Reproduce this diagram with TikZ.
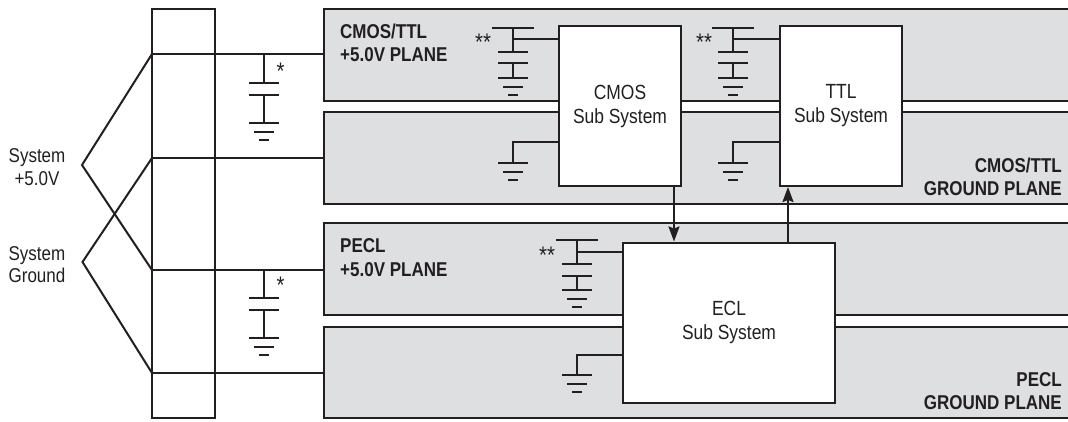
\documentclass[tikz,border=0pt]{standalone}
\usepackage{fontspec}
\setmainfont{Liberation Sans}[FakeStretch=0.85]
\usetikzlibrary{arrows.meta,calc}
\definecolor{planegray}{HTML}{DEDFE1}
\definecolor{inkline}{HTML}{231F20}
\tikzset{
    wire/.style={draw=inkline, line width=2pt},
    plane/.style={wire, fill=planegray},
    subbox/.style={wire, fill=white, minimum width=#1, align=center, inner sep=0pt,
        text=inkline, font=\fontsize{20.5}{24}\selectfont},
    planelabel/.style={inner sep=0pt, text=inkline, font=\bfseries\fontsize{20}{23.5}\selectfont},
    syslabel/.style={inner sep=0pt, align=center, text=inkline, font=\fontsize{20}{22.5}\selectfont},
    starlabel/.style={inner sep=0pt, text=inkline, font=\fontsize{24}{24}\selectfont},
    sig/.style={wire, -{Stealth[length=15pt,width=11pt,inset=2pt]}}
}
\newcommand{\gndsym}[1]{
    \draw[wire] ($(#1)+(-15,0)$) -- ++(30,0);
    \draw[wire] ($(#1)+(-10,9)$) -- ++(20,0);
    \draw[wire] ($(#1)+(-5,17)$) -- ++(10,0);
}
\begin{document}
\begin{tikzpicture}[x=1pt,y=-1pt]
    \useasboundingbox (0,0) rectangle (1068,422);

    \path[plane] (1068,9) -- (324,9) -- (324,101) -- (1068,101);
    \path[plane] (1068,112) -- (324,112) -- (324,204) -- (1068,204);
    \path[plane] (1068,223) -- (324,223) -- (324,315) -- (1068,315);
    \path[plane] (1068,327) -- (324,327) -- (324,418) -- (1068,418);

    \node[wire, minimum width=63, minimum height=409, inner sep=0pt] (rack) at (183.5,213.5) {};

    \coordinate (railA) at (152,54);
    \coordinate (railB) at (152,158);
    \coordinate (railC) at (152,270);
    \coordinate (railD) at (152,373);
    \coordinate (planeA) at (324,54);
    \coordinate (planeB) at (324,158);
    \coordinate (planeC) at (324,270);
    \coordinate (planeD) at (324,373);
    \coordinate (apexV) at (82,165);
    \coordinate (apexG) at (82.5,262);

    \draw[wire] (railA) -- (planeA);
    \draw[wire] (railB) -- (planeB);
    \draw[wire] (railC) -- (planeC);
    \draw[wire] (railD) -- (planeD);
    \draw[wire, line join=miter] (railA) -- (apexV) -- (railC);
    \draw[wire, line join=miter] (railB) -- (apexG) -- (railD);

    \node[syslabel] (sysV) at (37,167) {System\\+5.0V};
    \node[syslabel] (sysG) at (37,264.5) {System\\Ground};

    \node[subbox=122, minimum height=160] (cmos) at (620,106) {CMOS\\Sub System};
    \node[subbox=122, minimum height=160] (ttl) at (841,106) {TTL\\Sub System};
    \node[subbox=212, minimum height=160] (ecl) at (729,322.5) {ECL\\Sub System};

    \draw[sig] (cmos.south -| 674,0) -- (ecl.north -| 674,0);
    \draw[sig] (ecl.north -| 788,0) -- (ttl.south -| 788,0);

    \node[planelabel, anchor=west] (lblA) at (340,31) {CMOS/TTL};
    \node[planelabel, anchor=west] (lblB) at (340,54.5) {+5.0V PLANE};
    \node[planelabel, anchor=east] (lblC) at (1062,165) {CMOS/TTL};
    \node[planelabel, anchor=east] (lblD) at (1062,188.5) {GROUND PLANE};
    \node[planelabel, anchor=west] (lblE) at (340,245.5) {PECL};
    \node[planelabel, anchor=west] (lblF) at (340,269.5) {+5.0V PLANE};
    \node[planelabel, anchor=east] (lblG) at (1062,380) {PECL};
    \node[planelabel, anchor=east] (lblH) at (1062,403) {GROUND PLANE};

    \coordinate (capA) at (264,54);
    \draw[wire] (capA) -- ++(0,29);
    \draw[wire] (249,83) -- ++(30,0);
    \draw[wire] (249,95) -- ++(30,0);
    \coordinate (gndA) at (264,123);
    \draw[wire] (264,95) -- (gndA);
    \gndsym{gndA}
    \node[starlabel] (starA) at (280.5,71) {*};

    \coordinate (capB) at (264,270);
    \draw[wire] (capB) -- ++(0,28);
    \draw[wire] (249,298) -- ++(30,0);
    \draw[wire] (249,310) -- ++(30,0);
    \coordinate (gndB) at (264,338);
    \draw[wire] (264,310) -- (gndB);
    \gndsym{gndB}
    \node[starlabel] (starB) at (280.5,285) {*};

    \foreach \bx/\name/\tgt/\sx in {513/C/cmos/483, 733/D/ttl/704}{
        \draw[wire] (\bx-21,28) -- ++(42,0);
        \draw[wire] (\bx,28) -- (\bx,52);
        \draw[wire] (\bx-15,52) -- ++(30,0);
        \draw[wire] (\bx-15,63) -- ++(30,0);
        \coordinate (gnd\name) at (\bx,78);
        \draw[wire] (\bx,63) -- (gnd\name);
        \gndsym{gnd\name}
        \coordinate (tap\name) at (\bx,39);
        \draw[wire] (tap\name) -- (tap\name -| \tgt.west);
        \node[starlabel] (star\name) at (\sx,42) {**};
        \coordinate (low\name) at (\bx,163);
        \draw[wire] (low\name) |- (\tgt.west |- 0,142);
        \gndsym{low\name}
    }

    \draw[wire] (556,240) -- ++(42,0);
    \draw[wire] (577,240) -- (577,264);
    \draw[wire] (562,264) -- ++(30,0);
    \draw[wire] (562,276) -- ++(30,0);
    \coordinate (gndE) at (577,290);
    \draw[wire] (577,276) -- (gndE);
    \gndsym{gndE}
    \coordinate (tapE) at (577,252);
    \draw[wire] (tapE) -- (tapE -| ecl.west);
    \node[starlabel] (starE) at (547,255) {**};
    \coordinate (lowE) at (577,375);
    \draw[wire] (lowE) |- (ecl.west |- 0,355);
    \gndsym{lowE}
\end{tikzpicture}
\end{document}
